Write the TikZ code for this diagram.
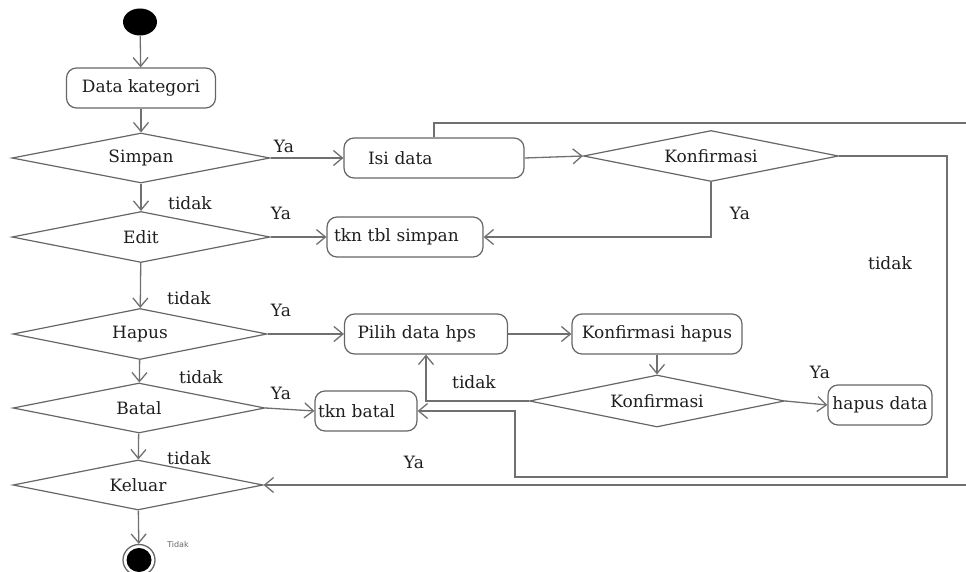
\documentclass[tikz,border=0pt]{standalone}
\usepackage{fontspec}
\setmainfont{DejaVu Serif}
\newfontfamily\smallsans{DejaVu Sans}
\usetikzlibrary{shapes.geometric,arrows.meta}
\definecolor{linegray}{HTML}{707070}
\definecolor{boxgray}{HTML}{666666}
\definecolor{txt}{HTML}{1E1E1E}
\tikzset{
  act/.style={draw=boxgray, line width=1.2pt, rounded corners=10pt, minimum height=40pt, inner ysep=0pt, text=txt, font=\fontsize{17}{20}\selectfont},
  dec/.style={diamond, shape aspect=5.2, draw=boxgray, line width=1.2pt, inner sep=0pt, text=txt, font=\fontsize{17}{20}\selectfont},
  flow/.style={draw=linegray, line width=1.3pt, -{Straight Barb[length=9pt,width=15pt]}},
  lbl/.style={text=txt, inner sep=0pt, font=\fontsize{17}{20}\selectfont},
}
\begin{document}
\begin{tikzpicture}[x=1pt,y=-1pt]
\useasboundingbox (0,0) rectangle (966,572);
% start / end
\node[ellipse, fill=black, minimum width=34pt, minimum height=27pt, inner sep=0pt] (start) at (140,22) {};
\node[ellipse, draw=boxgray, line width=1.3pt, minimum width=32pt, minimum height=31pt, inner sep=0pt] (endn) at (139,560) {};
\node[ellipse, fill=black, minimum width=25pt, minimum height=24pt, inner sep=0pt] (endin) at (139,560) {};
% left column
\node[act, minimum width=149pt] (dk) at (141,88) {Data kategori};
\node[dec, minimum width=258pt, minimum height=50pt] (simpan) at (141,158) {Simpan};
\node[dec, minimum width=258pt, minimum height=51pt] (edit) at (141,237) {Edit};
\node[dec, minimum width=254pt, minimum height=51pt] (hapus) at (140,334) {Hapus};
\node[dec, minimum width=252pt, minimum height=50pt] (batal) at (139,408) {Batal};
\node[dec, minimum width=250pt, minimum height=50pt] (keluar) at (138,485) {Keluar};
% right side
\node[act, text width=132pt, inner xsep=24pt, align=left] (isi) at (434,158) {Isi data};
\node[dec, minimum width=255pt, minimum height=51pt] (konf1) at (711,156) {Konfirmasi};
\node[act, text width=142pt, inner xsep=7pt, align=left] (tkn) at (405,237) {tkn tbl simpan};
\node[act, text width=137pt, inner xsep=13pt, align=left] (pilih) at (426,334) {Pilih data hps};
\node[act, minimum width=170pt, inner xsep=3pt] (kh) at (657,334) {Konfirmasi hapus};
\node[dec, minimum width=255pt, minimum height=52pt] (konf2) at (657,401) {Konfirmasi};
\node[act, minimum width=104pt, inner xsep=3pt] (hd) at (880,405) {hapus data};
\node[act, text width=96pt, inner xsep=3pt, align=left] (tb) at (366,411) {tkn batal};
% coordinates for routed lines
\coordinate (r1) at (947,477);
\coordinate (r2) at (515,477);
\coordinate (o1) at (968,123);
\coordinate (o2) at (968,485);
% connectors
\draw[flow] (start) -- (dk);
\draw[flow] (dk) -- (simpan);
\draw[flow] (simpan) -- (edit);
\draw[flow] (edit) -- (hapus);
\draw[flow] (hapus) -- (batal);
\draw[flow] (batal) -- (keluar);
\draw[flow] (keluar) -- (endn);
\draw[flow] (simpan.east) -- (isi.west);
\draw[flow] (isi.east) -- (konf1.west);
\draw[flow] (konf1.south) |- (tkn.east);
\draw[flow] (edit.east) -- (tkn.west);
\draw[flow] (hapus.east) -- (pilih.west);
\draw[flow] (pilih.east) -- (kh.west);
\draw[flow] (kh.south) -- (konf2.north);
\draw[flow] (konf2.east) -- (hd.west);
\draw[flow] (konf2.west) -| (pilih.south);
\draw[flow] (batal.east) -- (tb.west);
\draw[flow] (konf1.east) -| (r1) -- (r2) |- (tb.east);
\draw[flow] (isi.north) |- (o1) -- (o2) -- (keluar.east);
% labels
\node[lbl] (l1) at (284,146) {Ya};
\node[lbl] (l2) at (190,203) {tidak};
\node[lbl] (l3) at (281,213) {Ya};
\node[lbl] (l4) at (740,213) {Ya};
\node[lbl] (l5) at (890,263) {tidak};
\node[lbl] (l6) at (189,298) {tidak};
\node[lbl] (l7) at (281,310) {Ya};
\node[lbl] (l8) at (201,377) {tidak};
\node[lbl] (l9) at (281,393) {Ya};
\node[lbl] (l10) at (474,382) {tidak};
\node[lbl] (l11) at (820,372) {Ya};
\node[lbl] (l12) at (189,458) {tidak};
\node[lbl] (l13) at (414,462) {Ya};
\node[text=boxgray, inner sep=0pt, font=\smallsans\fontsize{8}{9}\selectfont] (l14) at (178,545) {Tidak};
\end{tikzpicture}
\end{document}
